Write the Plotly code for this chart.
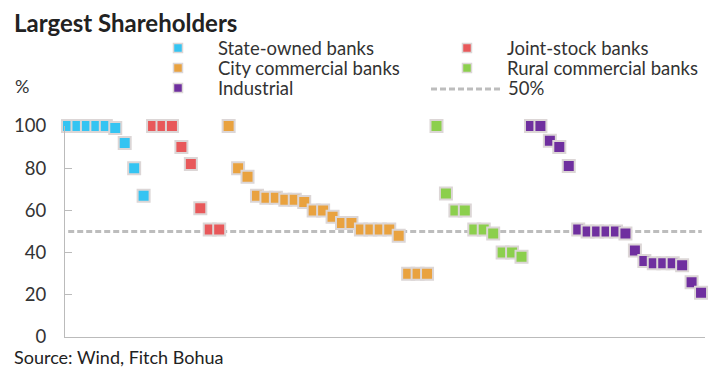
import plotly.graph_objects as go

# ---- data ----
state_owned = [100, 100, 100, 100, 100, 99, 92, 80, 67]
joint_stock = [100, 100, 100, 90, 82, 61, 51, 51]
city_commercial = [100, 80, 76, 67, 66, 66, 65, 65, 64, 60, 60, 57, 54, 54, 51, 51, 51, 51, 48, 30, 30, 30]
rural_commercial = [100, 68, 60, 60, 51, 51, 49, 40, 40, 38]
industrial = [100, 100, 93, 90, 81, 51, 50, 50, 50, 50, 49, 41, 36, 35, 35, 35, 34, 26, 21]
threshold = 50
y_ticks = [0, 20, 40, 60, 80, 100]

series_names = ["State-owned banks", "Joint-stock banks", "City commercial banks",
                "Rural commercial banks", "Industrial"]
series_values = [state_owned, joint_stock, city_commercial, rural_commercial, industrial]
colors = ["#35C4F2", "#E8585A", "#E9A23F", "#8CCF4D", "#6F2F9F"]
BORDER = "#DCD6D6"
DASH = "#BDBDBD"
FONT = "Lato, 'Open Sans', sans-serif"

OFF = 8  # page body margin
W, H = 711, 362
# window-coordinate plot box: x 65..705, y 126..337
ML = 65 - OFF
MT = 126 - OFF
PW = 640
PH = 211
MR = W - ML - PW
MB = H - MT - PH


def px(x):
    return (x - OFF - ML) / PW


def py(y):
    return (MT + PH - (y - OFF)) / PH


fig = go.Figure()
start = 0
total = sum(len(v) for v in series_values)
for name, vals, col in zip(series_names, series_values, colors):
    xs = list(range(start, start + len(vals)))
    start += len(vals)
    fig.add_trace(go.Scatter(
        x=xs, y=vals, mode="markers", name=name, showlegend=False,
        marker=dict(symbol="square", size=12, color=col,
                    line=dict(color=BORDER, width=2)),
        cliponaxis=False,
    ))

shapes = [dict(type="line", xref="paper", x0=0.005, x1=0.995, yref="y",
               y0=threshold, y1=threshold, layer="below",
               line=dict(color=DASH, width=3, dash="6px,3px"))]
annotations = []

LEG_SIZE = 18.5
# custom legend
leg = [(178, 48, 0), (467, 48, 1), (178, 68, 2), (467, 68, 3), (178, 88, 4)]
for cx, cy, i in leg:
    s = 4.5
    shapes.append(dict(type="rect", xref="paper", yref="paper",
                       x0=px(cx - s), x1=px(cx + s), y0=py(cy + s), y1=py(cy - s),
                       fillcolor=colors[i], line=dict(color=BORDER, width=1.5)))
    annotations.append(dict(text=series_names[i], xref="paper", yref="paper",
                            x=px(cx + 38), y=py(cy), xanchor="left", yanchor="middle",
                            showarrow=False, font=dict(family=FONT, size=LEG_SIZE, color="#333333")))
shapes.append(dict(type="line", xref="paper", yref="paper",
                   x0=px(431), x1=px(503), y0=py(89), y1=py(89),
                   line=dict(color=DASH, width=3, dash="6px,3px")))
annotations.append(dict(text=f"{threshold}%", xref="paper", yref="paper",
                        x=px(506), y=py(88), xanchor="left", yanchor="middle",
                        showarrow=False, font=dict(family=FONT, size=LEG_SIZE, color="#333333")))

annotations.append(dict(text="Largest Shareholders", xref="paper", yref="paper",
                        x=px(12), y=py(22), xanchor="left", yanchor="middle",
                        showarrow=False, font=dict(family=FONT, size=24, color="#222222", weight="bold")))
annotations.append(dict(text="%", xref="paper", yref="paper",
                        x=px(13), y=py(86), xanchor="left", yanchor="middle",
                        showarrow=False, font=dict(family=FONT, size=18, color="#333333")))
annotations.append(dict(text="Source: Wind, Fitch Bohua", xref="paper", yref="paper",
                        x=px(12), y=py(357), xanchor="left", yanchor="middle",
                        showarrow=False, font=dict(family=FONT, size=18, color="#222222")))

fig.update_layout(
    width=W, height=H,
    margin=dict(l=ML, r=MR, t=MT, b=MB, pad=0, autoexpand=False),
    paper_bgcolor="white", plot_bgcolor="white",
    showlegend=False,
    shapes=shapes, annotations=annotations,
    font=dict(family=FONT, color="#333333"),
    xaxis=dict(range=[-0.32, total - 1 + 0.42], showgrid=False, zeroline=False,
               showticklabels=False, ticks="", showline=True, linecolor="#BBBBBB", linewidth=1,
               automargin=False),
    yaxis=dict(range=[0, 100], tickvals=y_ticks, showgrid=False, zeroline=False,
               ticks="inside", ticklen=7, tickcolor="#BBBBBB", showline=True,
               linecolor="#BBBBBB", linewidth=1, ticklabelstandoff=14, automargin=False,
               tickfont=dict(family=FONT, size=18.5, color="#333333")),
)

fig.write_html("out.html")
